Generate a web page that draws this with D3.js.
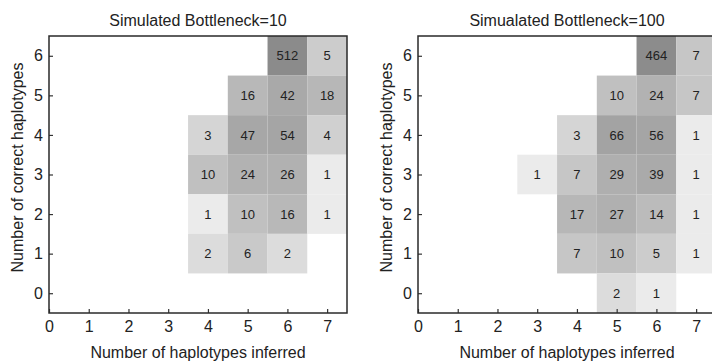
<!DOCTYPE html>
<html><head><meta charset="utf-8">
<script src="https://cdn.jsdelivr.net/npm/d3@7"></script>
<style>body{margin:0;background:#fff}svg{display:block}text{font-family:"Liberation Sans",Arial,sans-serif}</style>
</head><body>
<svg id="c" width="712" height="361"></svg>
<script>
// data
const xTicks = [0,1,2,3,4,5,6,7];
const yTicks = [0,1,2,3,4,5,6];
const titles = ["Simulated Bottleneck=10", "Simualated Bottleneck=100"];
const xLabel = "Number of haplotypes inferred";
const yLabel = "Number of correct haplotypes";
// cells: [inferred, correct, count]
const cells10 = [
  [6,6,512],[7,6,5],
  [5,5,16],[6,5,42],[7,5,18],
  [4,4,3],[5,4,47],[6,4,54],[7,4,4],
  [4,3,10],[5,3,24],[6,3,26],[7,3,1],
  [4,2,1],[5,2,10],[6,2,16],[7,2,1],
  [4,1,2],[5,1,6],[6,1,2]
];
const cells100 = [
  [6,6,464],[7,6,7],
  [5,5,10],[6,5,24],[7,5,7],
  [4,4,3],[5,4,66],[6,4,56],[7,4,1],
  [3,3,1],[4,3,7],[5,3,29],[6,3,39],[7,3,1],
  [4,2,17],[5,2,27],[6,2,14],[7,2,1],
  [4,1,7],[5,1,10],[6,1,5],[7,1,1],
  [5,0,2],[6,0,1]
];

const svg = d3.select("#c");
const color = d3.scaleLog().domain([1,2,10,50,512])
  .range(["#ebebeb","#dcdcdc","#c0c0c0","#a6a6a6","#8b8b8b"]).clamp(true);

function panel(left, cells, title) {
  const W = 298, top = 36, bottom = 313;
  const x = d3.scaleLinear().domain([0, 7.5]).range([left, left + W]);
  const y = d3.scaleLinear().domain([-0.5, 6.5]).range([bottom, top]);
  const g = svg.append("g");
  g.selectAll("rect.cell").data(cells).join("rect")
    .attr("class","cell")
    .attr("x", d => x(d[0]-0.5)).attr("y", d => y(d[1]+0.5))
    .attr("width", d => x(d[0]+0.5)-x(d[0]-0.5))
    .attr("height", d => y(d[1]-0.5)-y(d[1]+0.5))
    .attr("fill", d => color(d[2]));
  g.selectAll("text.val").data(cells).join("text")
    .attr("class","val")
    .attr("x", d => x(d[0])).attr("y", d => y(d[1]))
    .attr("dy","0.36em").attr("text-anchor","middle")
    .attr("font-size", 13).attr("fill","#222")
    .text(d => d[2]);
  const ax = g.append("g").attr("transform",`translate(0,${bottom})`)
    .call(d3.axisBottom(x).tickValues(xTicks).tickFormat(d3.format("d"))
      .tickSizeInner(-4).tickSizeOuter(0).tickPadding(8));
  const ay = g.append("g").attr("transform",`translate(${left},0)`)
    .call(d3.axisLeft(y).tickValues(yTicks).tickFormat(d3.format("d"))
      .tickSizeInner(-4).tickSizeOuter(0).tickPadding(6));
  [ax, ay].forEach(a => {
    a.select(".domain").remove();
    a.selectAll("line").attr("stroke","#333").attr("stroke-width",1.2);
    a.selectAll("text").attr("font-size",16).attr("fill","#222")
      .attr("font-family",'"Liberation Sans",Arial,sans-serif');
  });
  g.append("rect").attr("x", left).attr("y", top)
    .attr("width", W).attr("height", bottom-top)
    .attr("fill","none").attr("stroke","#2a2a2a").attr("stroke-width",1.5);
  g.append("text").attr("x", left + W/2).attr("y", 26)
    .attr("text-anchor","middle").attr("font-size",16).attr("fill","#222").text(title);
  g.append("text").attr("x", left + W/2).attr("y", 358)
    .attr("text-anchor","middle").attr("font-size",16).attr("fill","#222").text(xLabel);
  g.append("text").attr("transform",`translate(${left-26},${(top+bottom)/2 - 7}) rotate(-90)`)
    .attr("text-anchor","middle").attr("font-size",16).attr("fill","#222").text(yLabel);
}
panel(49, cells10, titles[0]);
panel(418, cells100, titles[1]);
</script>
</body></html>
